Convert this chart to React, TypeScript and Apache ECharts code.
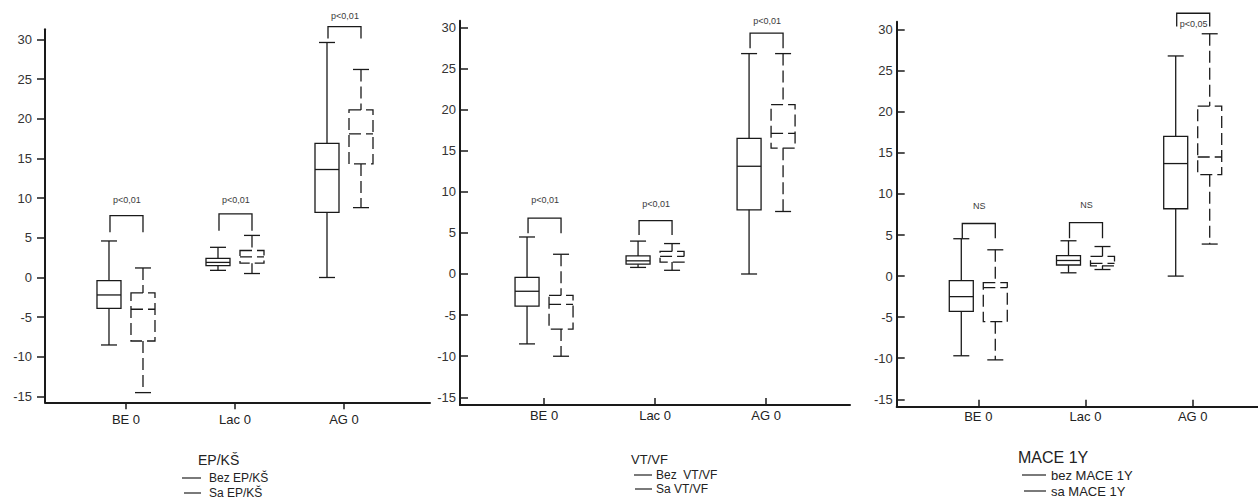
import React, { useEffect, useRef } from 'react';
import * as echarts from 'echarts';

const categories = ['BE 0', 'Lac 0', 'AG 0'];
const yTicks = [-15, -10, -5, 0, 5, 10, 15, 20, 25, 30];
const xTicks = [1, 2, 3];

// each row: [min, q1, median, q3, max]
const epksWithout = [[-8.5, -3.9, -2.2, -0.4, 4.6], [0.9, 1.5, 1.9, 2.4, 3.8], [0, 8.2, 13.6, 16.9, 29.6]];
const epksWith = [[-14.5, -8.0, -4.0, -1.95, 1.2], [0.5, 1.8, 2.6, 3.4, 5.3], [8.8, 14.3, 18.1, 21.1, 26.2]];
const vtvfWithout = [[-8.5, -3.9, -2.1, -0.4, 4.5], [0.8, 1.2, 1.6, 2.2, 4.0], [0, 7.8, 13.1, 16.5, 26.8]];
const vtvfWith = [[-10, -6.7, -3.7, -2.6, 2.4], [0.45, 1.45, 2.15, 2.75, 3.7], [7.6, 15.3, 17.1, 20.6, 26.8]];
const maceWithout = [[-9.7, -4.3, -2.5, -0.55, 4.55], [0.4, 1.35, 1.9, 2.5, 4.3], [0, 8.2, 13.7, 17.0, 26.8]];
const maceWith = [[-10.2, -5.55, -1.4, -0.8, 3.2], [0.8, 1.25, 1.55, 2.4, 3.6], [3.9, 12.35, 14.5, 20.7, 29.5]];

// significance brackets: [bracket top, leg bottom, label level]
const epksBrackets = [[7.8, 5.7, 9.7], [8.0, 5.9, 9.8], [31.6, 30.1, 32.9]];
const vtvfBrackets = [[6.8, 4.95, 9.0], [6.5, 4.75, 8.5], [29.3, 27.45, 30.8]];
const maceBrackets = [[6.4, 4.6, 8.5], [6.5, 4.6, 8.65], [32.0, 30.4, 30.7]];
const epksP = ['p<0,01', 'p<0,01', 'p<0,01'];
const vtvfP = ['p<0,01', 'p<0,01', 'p<0,01'];
const maceP = ['NS', 'NS', 'p<0,05'];

const FONT = 'Liberation Sans, Arial, sans-serif';
const INK = '#1a1a1a';

const panels = [
  {
    without: epksWithout, with: epksWith, brackets: epksBrackets, p: epksP,
    grid: { left: 45, top: 29.3, width: 385, height: 373 },
    x: [0.257, 3.789], y: [-15.72, 31.26], inside: false, yMargin: 13, xMargin: 11,
  },
  {
    without: vtvfWithout, with: vtvfWith, brackets: vtvfBrackets, p: vtvfP,
    grid: { left: 460, top: 20.7, width: 390, height: 384.3 },
    x: [0.243, 3.756], y: [-15.93, 30.8], inside: true, yMargin: 4, xMargin: 4,
  },
  {
    without: maceWithout, with: maceWith, brackets: maceBrackets, p: maceP,
    grid: { left: 896.7, top: 21.7, width: 361.3, height: 385 },
    x: [0.239, 3.609], y: [-15.9, 30.97], inside: true, yMargin: 4, xMargin: 3,
  },
];

const boxRenderer = (dir: number, dashed: boolean) => (params: any, api: any) => {
  const x = api.value(0);
  const pMin = api.coord([x, api.value(1)]);
  const yQ1 = api.coord([x, api.value(2)])[1];
  const yMed = api.coord([x, api.value(3)])[1];
  const yQ3 = api.coord([x, api.value(4)])[1];
  const yMax = api.coord([x, api.value(5)])[1];
  const yMin = pMin[1];
  const cx = pMin[0] + dir * 17;
  const hw = 12;
  const cw = 8;
  const style: any = { stroke: INK, lineWidth: 1.3, fill: 'none', lineDash: dashed ? [12, 5] : null };
  const solid: any = { stroke: INK, lineWidth: 1.3, fill: 'none' };
  return {
    type: 'group',
    children: [
      { type: 'line', shape: { x1: cx, y1: yMax, x2: cx, y2: yQ3 }, style },
      { type: 'line', shape: { x1: cx, y1: yQ1, x2: cx, y2: yMin }, style },
      { type: 'line', shape: { x1: cx - cw, y1: yMax, x2: cx + cw, y2: yMax }, style: solid },
      { type: 'line', shape: { x1: cx - cw, y1: yMin, x2: cx + cw, y2: yMin }, style: solid },
      { type: 'rect', shape: { x: cx - hw, y: yQ3, width: hw * 2, height: yQ1 - yQ3 }, style },
      { type: 'line', shape: { x1: cx - hw, y1: yMed, x2: cx + hw, y2: yMed }, style },
    ],
  };
};

const bracketRenderer = (labels: string[]) => (params: any, api: any) => {
  const x = api.value(0);
  const pTop = api.coord([x, api.value(1)]);
  const yLeg = api.coord([x, api.value(2)])[1];
  const yLab = api.coord([x, api.value(3)])[1];
  const xl = pTop[0] - 16;
  const xr = pTop[0] + 17;
  return {
    type: 'group',
    children: [
      {
        type: 'polyline',
        shape: { points: [[xl, yLeg], [xl, pTop[1]], [xr, pTop[1]], [xr, yLeg]] },
        style: { stroke: INK, lineWidth: 1.3, fill: 'none' },
      },
      {
        type: 'text',
        x: pTop[0] + 1,
        y: yLab,
        style: {
          text: labels[params.dataIndex], fill: '#3a3a3a', font: `9px ${FONT}`,
          align: 'center', verticalAlign: 'middle',
        },
      },
    ],
  };
};

const legendText = (text: string, x: number, y: number, size: number) => ({
  type: 'text', x, y,
  style: { text, fill: '#222', font: `${size}px ${FONT}`, align: 'left', verticalAlign: 'middle' },
});
const legendLine = (x1: number, x2: number, y: number) => ({
  type: 'line', shape: { x1, y1: y, x2, y2: y }, style: { stroke: '#222', lineWidth: 1.2 },
});

export default function App() {
  const ref = useRef<HTMLDivElement>(null);
  useEffect(() => {
    if (!ref.current) return;
    const chart = echarts.init(ref.current, undefined, { renderer: 'svg' });
    const grids: any[] = [];
    const xAxes: any[] = [];
    const yAxes: any[] = [];
    const series: any[] = [];
    panels.forEach((p, i) => {
      grids.push({ ...p.grid, containLabel: false });
      xAxes.push({
        gridIndex: i, type: 'value', min: p.x[0], max: p.x[1],
        splitLine: { show: false },
        axisLine: { show: true, onZero: false, lineStyle: { color: INK, width: 2 } },
        axisTick: { show: true, customValues: xTicks, inside: p.inside, length: 7, lineStyle: { color: INK, width: 1.5 } },
        axisLabel: {
          customValues: xTicks, margin: p.xMargin, color: '#222', fontSize: 13, fontFamily: FONT,
          formatter: (v: number) => categories[Math.round(v) - 1] ?? '',
        },
      });
      yAxes.push({
        gridIndex: i, type: 'value', min: p.y[0], max: p.y[1],
        splitLine: { show: false },
        axisLine: { show: true, onZero: false, lineStyle: { color: INK, width: 2 } },
        axisTick: { show: true, customValues: yTicks, inside: p.inside, length: 8, lineStyle: { color: INK, width: 1.5 } },
        axisLabel: { customValues: yTicks, margin: p.yMargin, color: '#333', fontSize: 13, fontFamily: FONT },
      });
      const toData = (rows: number[][]) => rows.map((r, k) => [xTicks[k], ...r]);
      series.push({
        type: 'custom', xAxisIndex: i, yAxisIndex: i, clip: false,
        renderItem: boxRenderer(-1, false), data: toData(p.without),
        encode: { x: 0, y: [1, 2, 3, 4, 5] },
      });
      series.push({
        type: 'custom', xAxisIndex: i, yAxisIndex: i, clip: false,
        renderItem: boxRenderer(1, true), data: toData(p.with),
        encode: { x: 0, y: [1, 2, 3, 4, 5] },
      });
      series.push({
        type: 'custom', xAxisIndex: i, yAxisIndex: i, clip: false,
        renderItem: bracketRenderer(p.p), data: toData(p.brackets),
        encode: { x: 0, y: [1, 2, 3] },
      });
    });
    chart.setOption({
      animation: false,
      backgroundColor: '#fff',
      grid: grids,
      xAxis: xAxes,
      yAxis: yAxes,
      series,
      graphic: [
        legendText('EP/KŠ', 198, 460, 14),
        legendLine(182, 201, 478),
        legendText('Bez EP/KŠ', 209, 478, 12),
        legendLine(184, 201, 493),
        legendText('Sa EP/KŠ', 209, 493, 12),
        legendText('VT/VF', 631, 459, 13),
        legendLine(634, 652, 475),
        legendText('Bez  VT/VF', 656, 475, 12),
        legendLine(635, 652, 489),
        legendText('Sa VT/VF', 656, 489, 12),
        legendText('MACE 1Y', 1018, 457, 16),
        legendLine(1022, 1046, 475),
        legendText('bez MACE 1Y', 1051, 475, 13),
        legendLine(1024, 1046, 491),
        legendText('sa MACE 1Y', 1051, 491, 13),
      ],
    });
    return () => chart.dispose();
  }, []);
  return (
    <div
      ref={ref}
      style={{ position: 'absolute', left: 0, top: 0, width: 1258, height: 501, background: '#fff' }}
    />
  );
}
